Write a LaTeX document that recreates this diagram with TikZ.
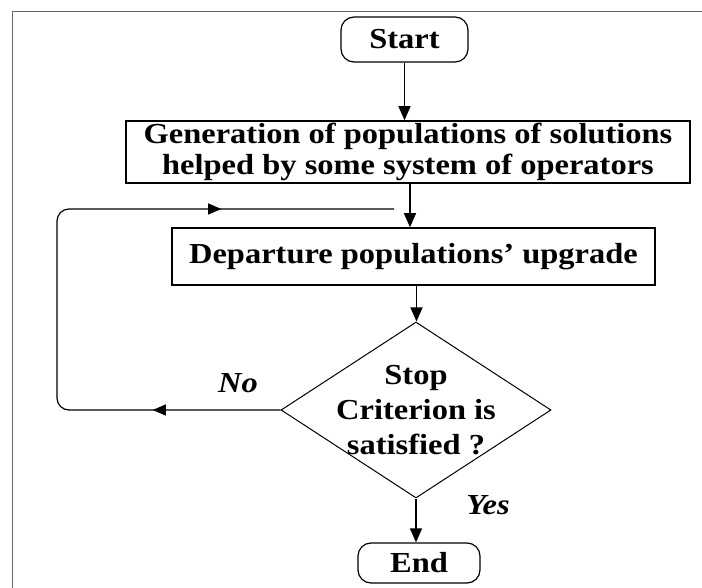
\documentclass[tikz,border=0pt]{standalone}
\usepackage{fontspec}
\setmainfont{Liberation Serif}[FakeStretch=1.12]
\usetikzlibrary{shapes.geometric,arrows.meta,decorations.markings}

\begin{document}
\begin{tikzpicture}[x=1pt, y=-1pt,
    every node/.style={font=\bfseries\fontsize{29}{31}\selectfont, align=center, inner sep=0pt},
    boite/.style={draw, line width=1.5pt},
    terminal/.style={draw, line width=1.2pt, rounded corners=13pt},
    test/.style={draw, diamond, line width=1pt},
    fleche/.style={-{Triangle[length=14pt,width=12pt]}, line width=1.2pt},
    retour/.style={line width=1.2pt, rounded corners=12pt, postaction={decorate},
      decoration={markings,
        mark=at position 0.17 with {\arrow{Triangle[length=13pt,width=11pt]}},
        mark=at position 0.77 with {\arrow{Triangle[length=13pt,width=11pt]}}}},
    etiquette/.style={font=\bfseries\itshape\fontsize{29}{31}\selectfont}]
    % cadre
    \useasboundingbox (0,0) rectangle (702,588);
    \draw[line width=1pt, gray!80!black] (12,588) -- (12,12) -- (702,12);
    % blocs
    \node[terminal, minimum width=127pt, minimum height=45pt] (start) at (404.5,39.5) {Start};
    \node[boite, minimum width=564pt, minimum height=62pt] (gen) at (408,152)
      {Generation of populations of solutions\\helped by some system of operators};
    \node[boite, minimum width=483pt, minimum height=57pt] (dep) at (413.5,256.5)
      {Departure populations' upgrade};
    \node[test, minimum width=270pt, minimum height=176pt] (crit) at (416,410) {};
    \node[font=\bfseries\fontsize{29}{35}\selectfont] (crittexte) at (crit) {Stop\\Criterion is\\satisfied ?};
    \node[terminal, minimum width=122pt, minimum height=40pt] (fin) at (419,563) {End};
    % liaisons
    \draw[fleche] (start.south) -- (start.south |- gen.north);
    \draw[fleche] ([xshift=2pt]gen.south) -- ([xshift=2pt]gen.south |- dep.north);
    \draw[fleche] ([xshift=3pt]dep.south) -- ([xshift=3pt]dep.south |- crit.north);
    \draw[fleche] (crit.south) -- (crit.south |- fin.north);
    \coordinate (coin) at (57,209);
    \coordinate (retourfin) at (394,209);
    \draw[retour] (crit.west) -| (coin) -- (retourfin);
    % étiquettes
    \node[etiquette] (non) at (238,383) {No};
    \node[etiquette] (oui) at (488,505) {Yes};
\end{tikzpicture}
\end{document}
